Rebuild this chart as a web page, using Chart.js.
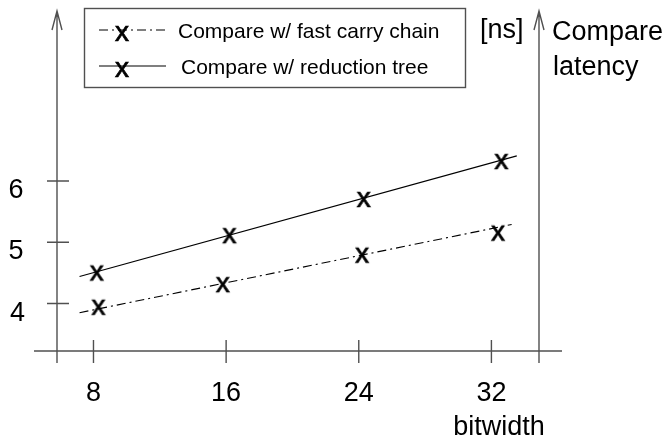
<!DOCTYPE html>
<html>
<head>
<meta charset="utf-8">
<script src="https://cdn.jsdelivr.net/npm/chart.js@4.4.1/dist/chart.umd.min.js"></script>
<style>
  html, body { margin: 0; padding: 0; background: #ffffff; }
  #wrap { width: 669px; height: 437px; }
</style>
</head>
<body>
<div id="wrap"><canvas id="c" width="669" height="437"></canvas></div>
<script>
// ---- data ----
const bitwidthTicks = [8, 16, 24, 32];
const latencyTicks = [4, 5, 6];
const seriesNames = ['Compare w/ fast carry chain', 'Compare w/ reduction tree'];
const carryX = [8.3, 15.8, 24.2, 32.4];
const carryY = [3.93, 4.30, 4.78, 5.14];
const treeX = [8.2, 16.2, 24.3, 32.6];
const treeY = [4.49, 5.10, 5.69, 6.31];
// trend lines through the points
const carryFitX = [7.16, 33.22];
const carryFitY = [3.85, 5.29];
const treeFitX = [7.16, 33.53];
const treeFitY = [4.44, 6.41];
// axis extents
const xRange = [5.8, 34.87];
const yRange = [3.225, 8.775];
const xTitle = 'bitwidth';
const yTitle = ['Compare', 'latency'];
const yUnit = '[ns]';

const zip = (xs, ys) => xs.map((x, i) => ({ x: x, y: ys[i] }));
const FONT = '"Liberation Sans", Arial, Helvetica, sans-serif';
const AX = '#505050';
const DASHDOT = [9, 4, 2, 4];

// "x" glyph used as the point marker
function glyphMarker() {
  const c = document.createElement('canvas');
  c.width = 24; c.height = 24;
  const g = c.getContext('2d');
  g.font = '28px ' + FONT;
  g.textAlign = 'center';
  g.textBaseline = 'alphabetic';
  g.fillStyle = '#000';
  g.strokeStyle = '#000';
  g.lineWidth = 0.7;
  g.fillText('x', 12, 19.3);
  g.strokeText('x', 12, 19.3);
  return c;
}
const MARK = glyphMarker();

const decor = {
  id: 'decor',
  beforeDatasetsDraw(chart) {
    const ctx = chart.ctx;
    const xs = chart.scales.x, ys = chart.scales.y;
    const L = xs.getPixelForValue(xRange[0]);
    const R = xs.getPixelForValue(xRange[1]);
    const B = ys.getPixelForValue(yRange[0]);
    const T = ys.getPixelForValue(yRange[1]);
    ctx.save();
    ctx.strokeStyle = AX;
    ctx.lineWidth = 1.4;
    ctx.setLineDash([]);
    ctx.beginPath();
    ctx.moveTo(L - 23, B); ctx.lineTo(R + 23, B);
    [L, R].forEach(px => {
      ctx.moveTo(px, B + 12); ctx.lineTo(px, T);
      ctx.moveTo(px - 5, T + 19); ctx.lineTo(px, T); ctx.lineTo(px + 5, T + 19);
    });
    bitwidthTicks.forEach(v => {
      const px = xs.getPixelForValue(v);
      ctx.moveTo(px, B - 11); ctx.lineTo(px, B + 12);
    });
    latencyTicks.forEach(v => {
      const py = ys.getPixelForValue(v);
      ctx.moveTo(L - 10, py); ctx.lineTo(L + 12, py);
    });
    ctx.stroke();

    ctx.fillStyle = '#000';
    ctx.font = '27px ' + FONT;
    ctx.textAlign = 'center';
    ctx.textBaseline = 'alphabetic';
    bitwidthTicks.forEach(v => {
      ctx.fillText(String(v), xs.getPixelForValue(v), B + 50);
    });
    latencyTicks.forEach((v, i) => {
      ctx.fillText(String(v), 16 + (v === 4 ? 1.5 : 0), ys.getPixelForValue(v) + 17);
    });
    ctx.fillText(xTitle, 499, 435);
    ctx.textAlign = 'left';
    ctx.fillText(yUnit, 480, 38);
    ctx.fillText(yTitle[0], 552, 40);
    ctx.fillText(yTitle[1], 553, 75);
    ctx.restore();
  },
  afterDatasetsDraw(chart) {
    const ctx = chart.ctx;
    ctx.save();
    ctx.strokeStyle = AX;
    ctx.lineWidth = 1.4;
    ctx.setLineDash([]);
    ctx.strokeRect(84.5, 8.5, 381, 79);
    const rows = [
      { y: 30, dash: DASHDOT, text: seriesNames[0], tx: 178, ty: 38 },
      { y: 66, dash: [], text: seriesNames[1], tx: 181, ty: 74 }
    ];
    rows.forEach(r => {
      ctx.strokeStyle = '#000';
      ctx.lineWidth = 1.1;
      ctx.setLineDash(r.dash);
      ctx.beginPath();
      ctx.moveTo(99, r.y); ctx.lineTo(166, r.y);
      ctx.stroke();
      ctx.setLineDash([]);
      ctx.drawImage(MARK, 122 - 12, r.y + 4 - 12);
      ctx.fillStyle = '#000';
      ctx.font = '21px ' + FONT;
      ctx.textAlign = 'left';
      ctx.textBaseline = 'alphabetic';
      ctx.fillText(r.text, r.tx, r.ty);
    });
    ctx.restore();
  }
};

new Chart(document.getElementById('c'), {
  type: 'scatter',
  data: {
    datasets: [
      {
        label: seriesNames[0] + ' (trend)',
        data: zip(carryFitX, carryFitY),
        showLine: true, borderColor: '#000', borderWidth: 1.1,
        borderDash: DASHDOT, pointRadius: 0, fill: false, order: 3
      },
      {
        label: seriesNames[1] + ' (trend)',
        data: zip(treeFitX, treeFitY),
        showLine: true, borderColor: '#000', borderWidth: 1.1,
        pointRadius: 0, fill: false, order: 3
      },
      {
        label: seriesNames[0],
        data: zip(carryX, carryY),
        showLine: false, pointStyle: MARK, pointRadius: 10,
        borderColor: '#000', backgroundColor: '#000', order: 1
      },
      {
        label: seriesNames[1],
        data: zip(treeX, treeY),
        showLine: false, pointStyle: MARK, pointRadius: 10,
        borderColor: '#000', backgroundColor: '#000', order: 1
      }
    ]
  },
  options: {
    responsive: false,
    devicePixelRatio: 1,
    animation: false,
    clip: false,
    layout: { padding: { left: 57, right: 130, top: 5, bottom: 86 } },
    scales: {
      x: { type: 'linear', min: xRange[0], max: xRange[1], display: false },
      y: { type: 'linear', min: yRange[0], max: yRange[1], display: false }
    },
    plugins: { legend: { display: false }, tooltip: { enabled: false } }
  },
  plugins: [decor]
});
</script>
</body>
</html>
